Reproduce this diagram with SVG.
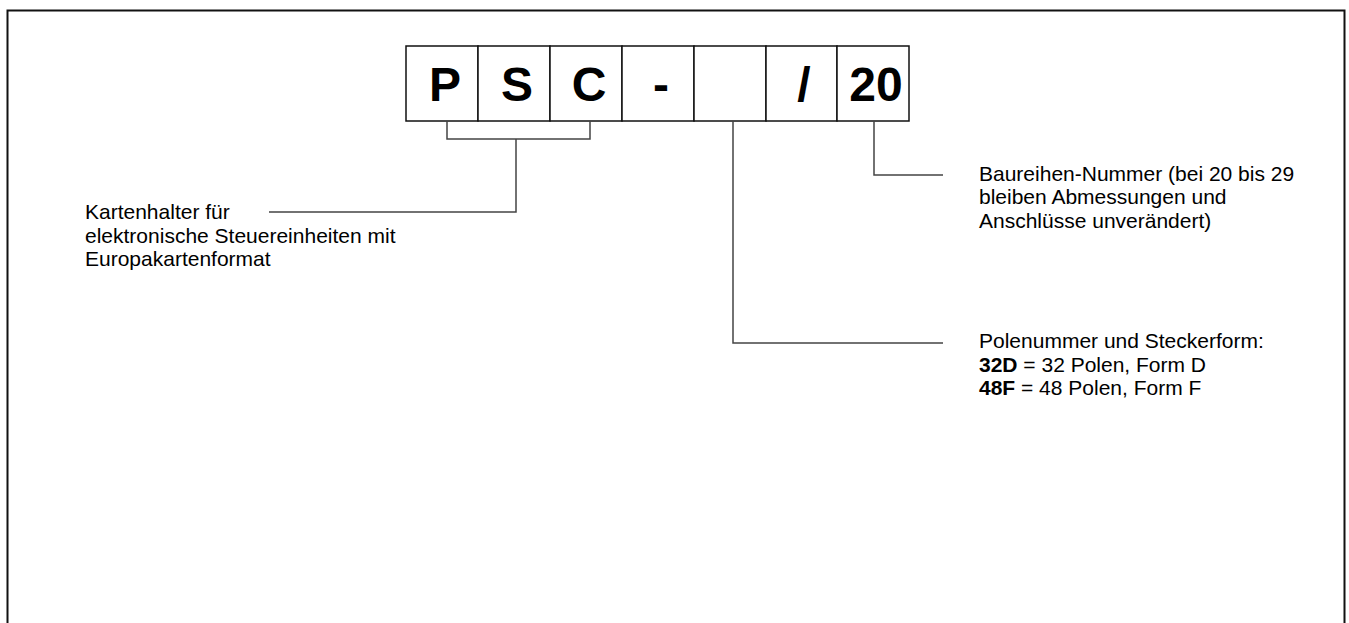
<svg xmlns="http://www.w3.org/2000/svg" width="1349" height="623" viewBox="0 0 1349 623">
<style>
.box{fill:#fff;stroke:#111;stroke-width:1.5}
.code{font-family:"Liberation Sans",Arial,sans-serif;font-weight:bold;font-size:48px;fill:#000;text-anchor:middle}
.lbl{font-family:"Liberation Sans",Arial,sans-serif;font-size:21px;fill:#000}
.b{font-weight:bold}
.conn{fill:none;stroke:#444;stroke-width:1.5}
</style>
<rect width="1349" height="623" fill="#fff"/>
<path d="M7.5,640 V10.5 H1344.5 V640" fill="none" stroke="#111" stroke-width="2"/>
<g id="code">
<g id="box-P"><rect class="box" x="406" y="46" width="72" height="75"/><text class="code" x="445" y="101">P</text></g>
<g id="box-S"><rect class="box" x="478" y="46" width="72" height="75"/><text class="code" x="517" y="101">S</text></g>
<g id="box-C"><rect class="box" x="550" y="46" width="72" height="75"/><text class="code" x="589" y="101">C</text></g>
<g id="box-dash"><rect class="box" x="622" y="46" width="72" height="75"/><text class="code" x="661" y="101">-</text></g>
<g id="box-pol"><rect class="box" x="694" y="46" width="72" height="75"/></g>
<g id="box-slash"><rect class="box" x="766" y="46" width="71" height="75"/><text class="code" x="804" y="101">/</text></g>
<g id="box-20"><rect class="box" x="837" y="46" width="72" height="75"/><text class="code" x="876" y="101">20</text></g>
</g>
<g id="connectors">
<path class="conn" d="M447,121 V139 H590 V121"/>
<path class="conn" d="M516,139 V212 H269"/>
<path class="conn" d="M733,121 V343 H943"/>
<path class="conn" d="M874,121 V175 H943"/>
</g>
<g id="label-psc">
<text class="lbl" x="85" y="219">Kartenhalter für</text>
<text class="lbl" x="85" y="242.5">elektronische Steuereinheiten mit</text>
<text class="lbl" x="85" y="266">Europakartenformat</text>
</g>
<g id="label-series">
<text class="lbl" x="979" y="180.5">Baureihen-Nummer (bei 20 bis 29</text>
<text class="lbl" x="979" y="204">bleiben Abmessungen und</text>
<text class="lbl" x="979" y="227.5">Anschlüsse unverändert)</text>
</g>
<g id="label-pol">
<text class="lbl" x="979" y="348">Polenummer und Steckerform:</text>
<text class="lbl" x="979" y="371.5"><tspan class="b">32D</tspan> = 32 Polen, Form D</text>
<text class="lbl" x="979" y="395"><tspan class="b">48F</tspan> = 48 Polen, Form F</text>
</g>
</svg>
